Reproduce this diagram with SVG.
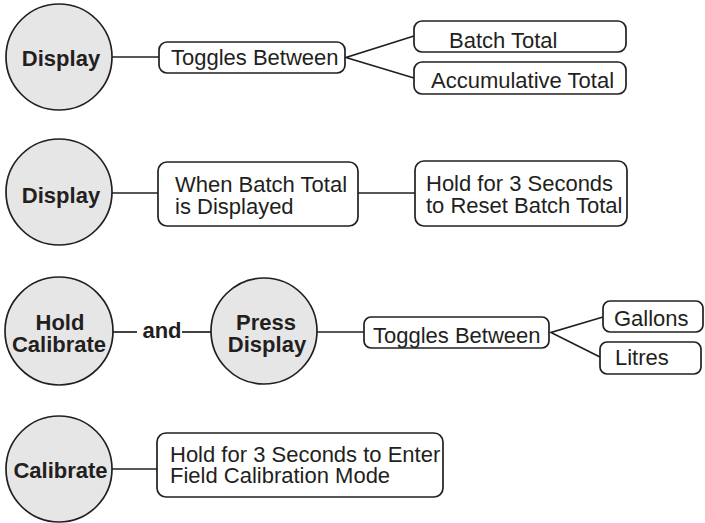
<svg xmlns="http://www.w3.org/2000/svg" width="705" height="523" viewBox="0 0 705 523">
<style>
.c{fill:#e6e6e7;stroke:#231f20;stroke-width:1.7}
.b{fill:#fff;stroke:#231f20;stroke-width:1.7}
.l{fill:none;stroke:#231f20;stroke-width:1.7}
text{font-family:"Liberation Sans",Arial,sans-serif;font-size:22px;fill:#231f20}
.t{font-weight:bold;text-anchor:middle}
</style>
<rect width="705" height="523" fill="#fff"/>
<g id="connectors">
<line class="l" x1="112" y1="57" x2="159" y2="57"/>
<polyline class="l" points="414,36 346,57.5 414,78"/>
<line class="l" x1="112" y1="193" x2="158" y2="193"/>
<line class="l" x1="358" y1="193" x2="415" y2="193"/>
<line class="l" x1="113" y1="332" x2="137" y2="332"/>
<line class="l" x1="182" y1="332" x2="211" y2="332"/>
<line class="l" x1="317" y1="332" x2="364" y2="332"/>
<polyline class="l" points="603,317 551,332.5 600,357"/>
<line class="l" x1="112" y1="469" x2="157" y2="469"/>
</g>
<g id="display1"><circle class="c" cx="59" cy="57" r="53"/><text class="t" x="61" y="66">Display</text></g>
<g id="toggles1"><rect class="b" x="159" y="42" width="186" height="31" rx="8"/><text x="171" y="65">Toggles Between</text></g>
<g id="batch"><rect class="b" x="414" y="21" width="212" height="31" rx="8"/><text x="449" y="47.5">Batch Total</text></g>
<g id="accum"><rect class="b" x="414" y="62" width="212" height="32" rx="8"/><text x="431" y="87.5">Accumulative Total</text></g>
<g id="display2"><circle class="c" cx="59" cy="192" r="53"/><text class="t" x="61" y="203">Display</text></g>
<g id="when"><rect class="b" x="158" y="162" width="200" height="64" rx="9"/><text x="175" y="192">When Batch Total</text><text x="175" y="213.5">is Displayed</text></g>
<g id="reset"><rect class="b" x="415" y="161" width="212" height="65" rx="9"/><text x="426" y="191">Hold for 3 Seconds</text><text x="426" y="212.5">to Reset Batch Total</text></g>
<g id="holdcal"><circle class="c" cx="59" cy="331" r="54"/><text class="t" x="60" y="330">Hold</text><text class="t" x="59" y="352">Calibrate</text></g>
<g id="and"><text class="t" x="162" y="338">and</text></g>
<g id="pressdisp"><circle class="c" cx="264" cy="331" r="53"/><text class="t" x="266" y="330">Press</text><text class="t" x="267" y="352">Display</text></g>
<g id="toggles2"><rect class="b" x="364" y="317" width="185" height="31" rx="7"/><text x="373" y="342.5">Toggles Between</text></g>
<g id="gallons"><rect class="b" x="603" y="301" width="100" height="31" rx="7"/><text x="614" y="326">Gallons</text></g>
<g id="litres"><rect class="b" x="600" y="342" width="101" height="32" rx="7"/><text x="615" y="365">Litres</text></g>
<g id="calibrate"><circle class="c" cx="59" cy="469" r="53"/><text class="t" x="60.5" y="478">Calibrate</text></g>
<g id="field"><rect class="b" x="157" y="433" width="286" height="64" rx="9"/><text x="170" y="462">Hold for 3 Seconds to Enter</text><text x="170" y="483">Field Calibration Mode</text></g>
</svg>
